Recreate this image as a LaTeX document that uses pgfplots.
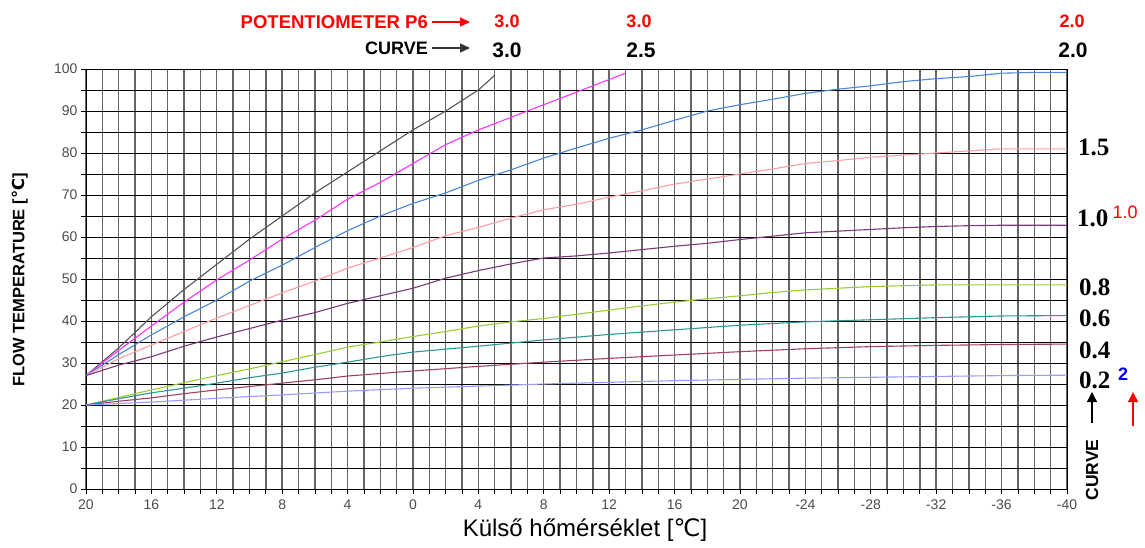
\documentclass[border=0pt]{standalone}
\usepackage{pgfplots}
\pgfplotsset{compat=1.18}
\usepackage{fontspec}
\setmainfont{Liberation Sans}
\newfontfamily\serifb{Liberation Serif}
\newfontfamily\dejavu{DejaVu Sans}
\usetikzlibrary{arrows.meta}
\definecolor{cA}{HTML}{555555}
\definecolor{cB}{HTML}{FF33FF}
\definecolor{cC}{HTML}{4A86D8}
\definecolor{cD}{HTML}{FF9E9E}
\definecolor{cE}{HTML}{7A3A7A}
\definecolor{cF}{HTML}{9ACC33}
\definecolor{cG}{HTML}{2E9696}
\definecolor{cH}{HTML}{A0406A}
\definecolor{cI}{HTML}{9A9AFF}
\begin{document}
\begin{tikzpicture}[x=1pt,y=1pt]
\path[use as bounding box] (-86,-58) rectangle (1059,489);
\begin{axis}[
  at={(0,0)}, anchor=south west,
  scale only axis, width=981pt, height=420pt,
  x dir=reverse, xmin=-40, xmax=20, ymin=0, ymax=100,
  xtick={20,16,12,8,4,0,-4,-8,-12,-16,-20,-24,-28,-32,-36,-40},
  xticklabels={20,16,12,8,4,0,4,8,12,16,20,-24,-28,-32,-36,-40},
  minor x tick num=3,
  ytick={0,10,...,100}, minor y tick num=1,
  grid=both,
  major x grid style={draw=black!60, line width=1.4pt},
  minor x grid style={draw=black!60, line width=1.4pt},
  major y grid style={draw=black, line width=0.9pt},
  minor y grid style={draw=black, line width=0.9pt},
  axis line style={black, line width=0.9pt},
  tick align=outside, tick pos=left,
  major tick length=5pt, minor tick length=5pt,
  tick style={black, line width=0.7pt},
  every tick label/.append style={font=\fontsize{14}{15}\selectfont, text=black!70},
  xticklabel style={yshift=-2pt},
  /pgf/number format/assume math mode=true,
  every axis plot/.append style={line width=1.1pt, mark=none},
]
\addplot[cA] coordinates {(20,27)(18,33.6)(16,41)(14,47.5)(12,53.5)(10,59.5)(8,65)(6,70.5)(4,75.5)(2,80.5)(0,85.5)(-2,90)(-4,95)(-5,98.5)};
\addplot[cB] coordinates {(20,27)(18,33)(16,38.8)(14,44.5)(12,49.8)(10,54.5)(8,59.5)(6,64)(4,69)(2,73)(0,77.5)(-2,82)(-4,85.5)(-6,88.5)(-8,91.5)(-10,94.5)(-12,97.5)(-13,99)};
\addplot[cC] coordinates {(20,27)(18,32)(16,36.7)(14,41)(12,45)(10,49.5)(8,53.3)(6,57.5)(4,61.5)(2,65)(0,68)(-2,70.5)(-4,73.5)(-6,76)(-8,78.8)(-10,81.2)(-12,83.5)(-14,85.5)(-16,87.8)(-18,90)(-20,91.5)(-22,92.8)(-24,94.2)(-26,95.2)(-28,96)(-30,97)(-32,97.7)(-34,98.2)(-36,99)(-38,99.2)(-40,99.2)};
\addplot[cD] coordinates {(20,27)(18,31)(16,34.3)(14,37.5)(12,40.7)(10,43.7)(8,46.7)(6,49.5)(4,52.6)(2,55)(0,57.5)(-2,60.3)(-4,62.3)(-6,64.5)(-8,66.5)(-10,67.8)(-12,69.5)(-14,71)(-16,72.6)(-18,73.8)(-20,75)(-22,76.2)(-24,77.5)(-26,78.2)(-28,79)(-30,79.5)(-32,80)(-34,80.5)(-36,81)(-38,81)(-40,81)};
\addplot[cE] coordinates {(20,27)(18,29.5)(16,31.5)(14,34)(12,36.2)(10,38.2)(8,40.2)(6,42)(4,44.2)(2,46)(0,47.8)(-2,50.2)(-4,52)(-6,53.6)(-8,55)(-10,55.5)(-12,56.2)(-14,57)(-16,57.8)(-18,58.5)(-20,59.4)(-22,60.2)(-24,61)(-26,61.4)(-28,61.8)(-30,62.2)(-32,62.5)(-34,62.7)(-36,62.8)(-40,62.8)};
\addplot[cF] coordinates {(20,20)(18,21.8)(16,23.6)(14,25.3)(12,27)(10,28.6)(8,30.3)(6,32)(4,33.8)(2,35)(0,36.3)(-2,37.5)(-4,38.8)(-6,39.8)(-8,40.6)(-10,41.6)(-12,42.6)(-14,43.6)(-16,44.5)(-18,45.3)(-20,46)(-22,46.8)(-24,47.4)(-26,47.8)(-28,48.2)(-30,48.4)(-32,48.6)(-40,48.6)};
\addplot[cG] coordinates {(20,20)(18,21.5)(16,22.9)(14,24)(12,25.2)(10,26.5)(8,27.6)(6,29)(4,30.2)(2,31.5)(0,32.6)(-4,34)(-8,35.5)(-12,36.8)(-16,37.9)(-20,39)(-24,39.8)(-28,40.3)(-32,40.8)(-36,41.2)(-40,41.3)};
\addplot[cH] coordinates {(20,20)(18,20.9)(16,21.7)(14,22.7)(12,23.6)(10,24.4)(8,25.2)(6,26)(4,26.9)(2,27.5)(0,28.1)(-4,29.2)(-8,30.2)(-12,31.1)(-16,31.9)(-20,32.7)(-24,33.4)(-28,33.9)(-32,34.2)(-36,34.4)(-40,34.5)};
\addplot[cI] coordinates {(20,20)(16,20.7)(12,21.6)(8,22.4)(4,23.3)(0,24)(-4,24.5)(-8,25)(-12,25.4)(-16,25.8)(-20,26.1)(-24,26.4)(-28,26.6)(-32,26.8)(-36,27)(-40,27.1)};
\end{axis}
% top annotations
\node[anchor=east, text=red, font=\fontsize{18.5}{20}\bfseries\selectfont, inner sep=0pt] at (342,467) {POTENTIOMETER P6};
\draw[red, line width=1.3pt, -{Triangle[length=10pt,width=9pt]}] (346,467) -- (384,467);
\node[text=red, font=\fontsize{18}{19}\bfseries\selectfont] at (421,468) {3.0};
\node[text=red, font=\fontsize{18}{19}\bfseries\selectfont] at (553,468) {3.0};
\node[text=red, font=\fontsize{18}{19}\bfseries\selectfont] at (986,468) {2.0};
\node[anchor=east, text=black, font=\fontsize{18}{20}\bfseries\selectfont, inner sep=0pt] at (342,441) {CURVE};
\draw[black!80, line width=1.3pt, -{Triangle[length=10pt,width=9pt]}] (346,441) -- (384,441);
\node[font=\fontsize{21}{23}\bfseries\selectfont] at (421,439) {3.0};
\node[font=\fontsize{21}{23}\bfseries\selectfont] at (555,439) {2.5};
\node[font=\fontsize{21}{23}\bfseries\selectfont] at (987,439) {2.0};
% right annotations
\tikzset{rl/.style={anchor=west, inner sep=0pt, font=\serifb\fontsize{25}{27}\bfseries\selectfont}}
\node[rl] at (992,342) {1.5};
\node[rl] at (991,271) {1.0};
\node[text=red, font=\fontsize{18}{19}\selectfont] at (1039,277) {1.0};
\node[rl] at (993,202) {0.8};
\node[rl] at (993,171) {0.6};
\node[rl] at (993,139) {0.4};
\node[rl] at (993,109) {0.2};
\node[text=blue, font=\fontsize{18}{19}\bfseries\selectfont] at (1037,115) {2};
\draw[black, line width=1.3pt, -{Triangle[length=10pt,width=10pt]}] (1006,66) -- (1006,97);
\draw[red, line width=1.3pt, -{Triangle[length=10pt,width=10pt]}] (1047,63) -- (1047,97);
\node[rotate=90, font=\fontsize{17.5}{19}\bfseries\selectfont] at (1006,19) {CURVE};
% axis labels
\node[rotate=90, font=\fontsize{16.5}{18}\bfseries\selectfont] at (-66,209) {FLOW TEMPERATURE [{\dejavu ℃}]};
\node[font=\fontsize{24}{26}\selectfont] at (499,-41) {Külső hőmérséklet [{\dejavu ℃}]};
\end{tikzpicture}
\end{document}
